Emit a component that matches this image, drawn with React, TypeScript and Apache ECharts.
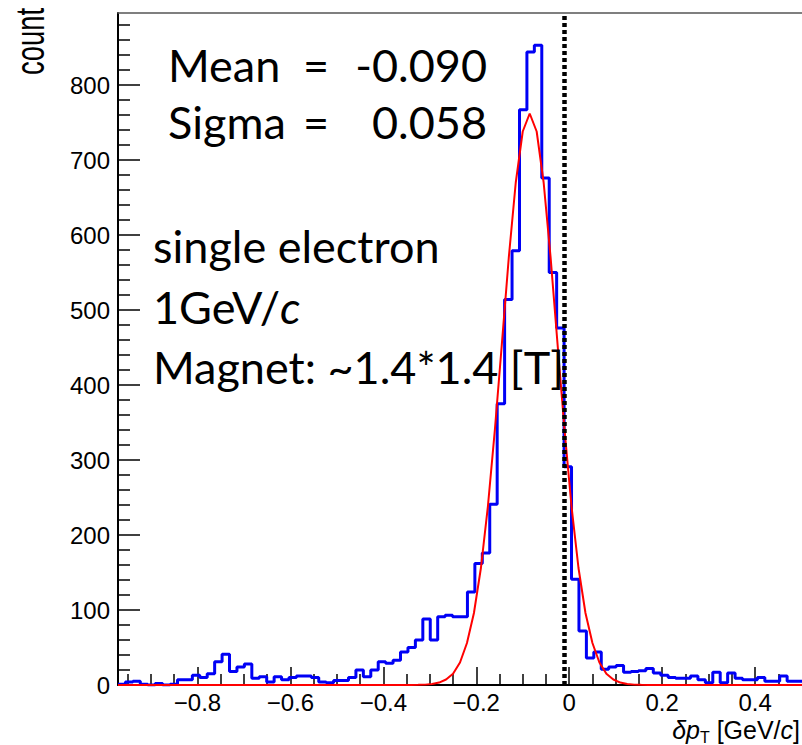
import React, { useEffect, useRef } from "react";
import * as echarts from "echarts";

// Histogram binning (bin left edges = BIN_START + k * BIN_WIDTH)
const BIN_START = -0.971;
const BIN_WIDTH = 0.016;
const COUNTS = [
  1, 4, 5, 1, 0, 2, 0, 1,
  7, 7, 13, 10, 15, 31, 41, 18, 24, 28, 9, 11, 4, 11, 7, 10, 12, 12, 10, 4, 3, 6, 6, 10,
  20, 11, 20, 31, 29, 33, 44, 50, 60, 88, 60, 91,
  93, 91, 91, 124, 162, 176, 241, 375, 514, 579, 767, 844, 853, 676, 550, 476,
  291, 141, 72, 36, 44, 21, 24, 26, 17, 18, 19, 22, 16,
  13, 10, 9, 9, 12, 7, 3, 17, 3, 16, 9, 7, 7, 10, 5, 5, 12, 5, 5,
];

// Gaussian fit curve
const FIT_X = [
  -0.971, -0.355, -0.34, -0.325, -0.31, -0.295, -0.28, -0.265, -0.25, -0.235, -0.22, -0.205,
  -0.19, -0.175, -0.16, -0.145, -0.13, -0.115, -0.1, -0.085, -0.07, -0.055, -0.04, -0.025,
  -0.01, 0.005, 0.02, 0.035, 0.05, 0.065, 0.08, 0.095, 0.11, 0.125, 0.14, 0.155, 0.17, 0.501,
];
const FIT_Y = [
  0, 0, 0.1, 0.2, 0.5, 1.4, 3.2, 7.3, 15, 30, 56, 96,
  156, 238, 340, 454, 570, 670, 738, 762, 738, 670, 570, 454,
  340, 238, 156, 96, 56, 30, 15, 7.3, 3.2, 1.4, 0.5, 0.2, 0, 0,
];

const X_MIN = -0.971;
const X_MAX = 0.501;
const Y_MAX = 896;
const X_TICKS = [-0.8, -0.6, -0.4, -0.2, 0, 0.2, 0.4];
const X_MINOR_TICKS = [
  -0.95, -0.9, -0.85, -0.75, -0.7, -0.65, -0.55, -0.5, -0.45, -0.35, -0.3, -0.25,
  -0.15, -0.1, -0.05, 0.05, 0.1, 0.15, 0.25, 0.3, 0.35, 0.45,
];
const Y_TICKS = [0, 100, 200, 300, 400, 500, 600, 700, 800];
const REF_LINE_X = -0.005;

const MEAN_TEXT = "-0.090";
const SIGMA_TEXT = "0.058";
const INFO_LINES = ["single electron", "1GeV/{i|c}", "Magnet: ~1.4*1.4 [T]"];

const AXIS_FONT = "Liberation Sans";
const NOTE_FONT = "Lato";
const NOTE_SIZE = 45;

function fmtTick(v: number): string {
  if (Math.abs(v) < 1e-9) return "0";
  return (v < 0 ? "\u2212" : "") + Math.abs(v).toFixed(1);
}

export default function App() {
  const ref = useRef<HTMLDivElement>(null);

  useEffect(() => {
    if (!ref.current) return;
    const chart = echarts.init(ref.current, undefined, { renderer: "svg" });

    const histData: number[][] = COUNTS.map((c, k) => [BIN_START + k * BIN_WIDTH, c]);
    histData.push([BIN_START + COUNTS.length * BIN_WIDTH, COUNTS[COUNTS.length - 1]]);
    const fitData = FIT_X.map((x, i) => [x, FIT_Y[i]]);

    const noteStyle = (text: string, align: string) => ({
      text,
      fontFamily: NOTE_FONT,
      fontSize: NOTE_SIZE,
      fill: "#000",
      align,
      verticalAlign: "middle",
      rich: {
        i: { fontFamily: NOTE_FONT, fontSize: NOTE_SIZE, fontStyle: "italic", fill: "#000" },
      },
    });

    const option: any = {
      animation: false,
      backgroundColor: "#fff",
      grid: { left: 118, right: 0, top: 13, bottom: 60, containLabel: false },
      xAxis: [
        {
          type: "value",
          min: X_MIN,
          max: X_MAX,
          position: "bottom",
          axisLine: { show: true, onZero: false, lineStyle: { color: "#000", width: 2 } },
          axisTick: { show: true, inside: true, length: 18, customValues: X_TICKS, lineStyle: { color: "#000", width: 1.5 } },
          axisLabel: {
            show: true,
            customValues: X_TICKS,
            formatter: (v: number) => fmtTick(v),
            fontFamily: AXIS_FONT,
            fontSize: 24,
            color: "#000",
            margin: 5,
          },
          splitLine: { show: false },
        },
        {
          type: "value",
          min: X_MIN,
          max: X_MAX,
          position: "bottom",
          axisLine: { show: false, onZero: false },
          axisTick: { show: true, inside: true, length: 11, customValues: X_MINOR_TICKS, lineStyle: { color: "#000", width: 1.5 } },
          axisLabel: { show: false },
          splitLine: { show: false },
        },
        {
          type: "value",
          min: X_MIN,
          max: X_MAX,
          position: "top",
          axisLine: { show: true, onZero: false, lineStyle: { color: "#555", width: 1.5 } },
          axisTick: { show: false },
          axisLabel: { show: false },
          splitLine: { show: false },
        },
      ],
      yAxis: {
        type: "value",
        min: 0,
        max: Y_MAX,
        interval: 100,
        position: "left",
        axisLine: { show: true, onZero: false, lineStyle: { color: "#000", width: 2 } },
        axisTick: { show: true, inside: true, length: 22, customValues: Y_TICKS, lineStyle: { color: "#000", width: 1.5 } },
        minorTick: { show: true, splitNumber: 5, length: 12, lineStyle: { color: "#000", width: 1.5 } },
        axisLabel: {
          customValues: Y_TICKS,
          fontFamily: AXIS_FONT,
          fontSize: 24,
          color: "#000",
          margin: 8,
        },
        splitLine: { show: false },
      },
      series: [
        {
          type: "line",
          data: histData,
          step: "end",
          showSymbol: false,
          symbol: "none",
          lineStyle: { color: "#0000f5", width: 3 },
          z: 3,
        },
        {
          type: "line",
          data: fitData,
          showSymbol: false,
          symbol: "none",
          lineStyle: { color: "#ff0000", width: 2 },
          z: 4,
          markLine: {
            silent: true,
            symbol: "none",
            label: { show: false },
            lineStyle: { color: "#000", width: 4.5, type: [4, 3] },
            data: [{ xAxis: REF_LINE_X }],
          },
        },
      ],
      graphic: [
        {
          type: "text",
          x: 30,
          y: 8,
          rotation: Math.PI / 2,
          scaleX: 0.685,
          style: { text: "count", fontFamily: AXIS_FONT, fontSize: 40, fill: "#000", align: "right", verticalAlign: "middle" },
        },
        {
          type: "text",
          x: 800,
          y: 730,
          style: {
            text: "{i|\u03b4p}{s|T}{n| [GeV/}{i|c}{n|]}",
            fontFamily: AXIS_FONT,
            fontSize: 25,
            fill: "#000",
            align: "right",
            verticalAlign: "middle",
            rich: {
              i: { fontFamily: AXIS_FONT, fontSize: 25, lineHeight: 25, fontStyle: "italic", fill: "#000" },
              n: { fontFamily: AXIS_FONT, fontSize: 25, lineHeight: 25, fill: "#000" },
              s: { fontFamily: AXIS_FONT, fontSize: 16, lineHeight: 12, fill: "#000", padding: [14, 0, 0, 0] },
            },
          },
        },
        { type: "text", x: 168, y: 65, z: 10, style: noteStyle("Mean", "left") },
        { type: "text", x: 316, y: 65, z: 10, style: noteStyle("=", "center") },
        { type: "text", x: 487, y: 65, z: 10, style: noteStyle(MEAN_TEXT, "right") },
        { type: "text", x: 168, y: 122, z: 10, style: noteStyle("Sigma", "left") },
        { type: "text", x: 316, y: 122, z: 10, style: noteStyle("=", "center") },
        { type: "text", x: 487, y: 122, z: 10, style: noteStyle(SIGMA_TEXT, "right") },
        { type: "text", x: 153, y: 246, z: 10, style: noteStyle(INFO_LINES[0], "left") },
        { type: "text", x: 153, y: 307, z: 10, style: noteStyle(INFO_LINES[1], "left") },
        { type: "text", x: 153, y: 367, z: 10, style: noteStyle(INFO_LINES[2], "left") },
      ],
    };

    chart.setOption(option);
    return () => chart.dispose();
  }, []);

  return (
    <div
      ref={ref}
      style={{ position: "fixed", left: 0, top: 0, width: 802, height: 745, background: "#fff" }}
    />
  );
}
